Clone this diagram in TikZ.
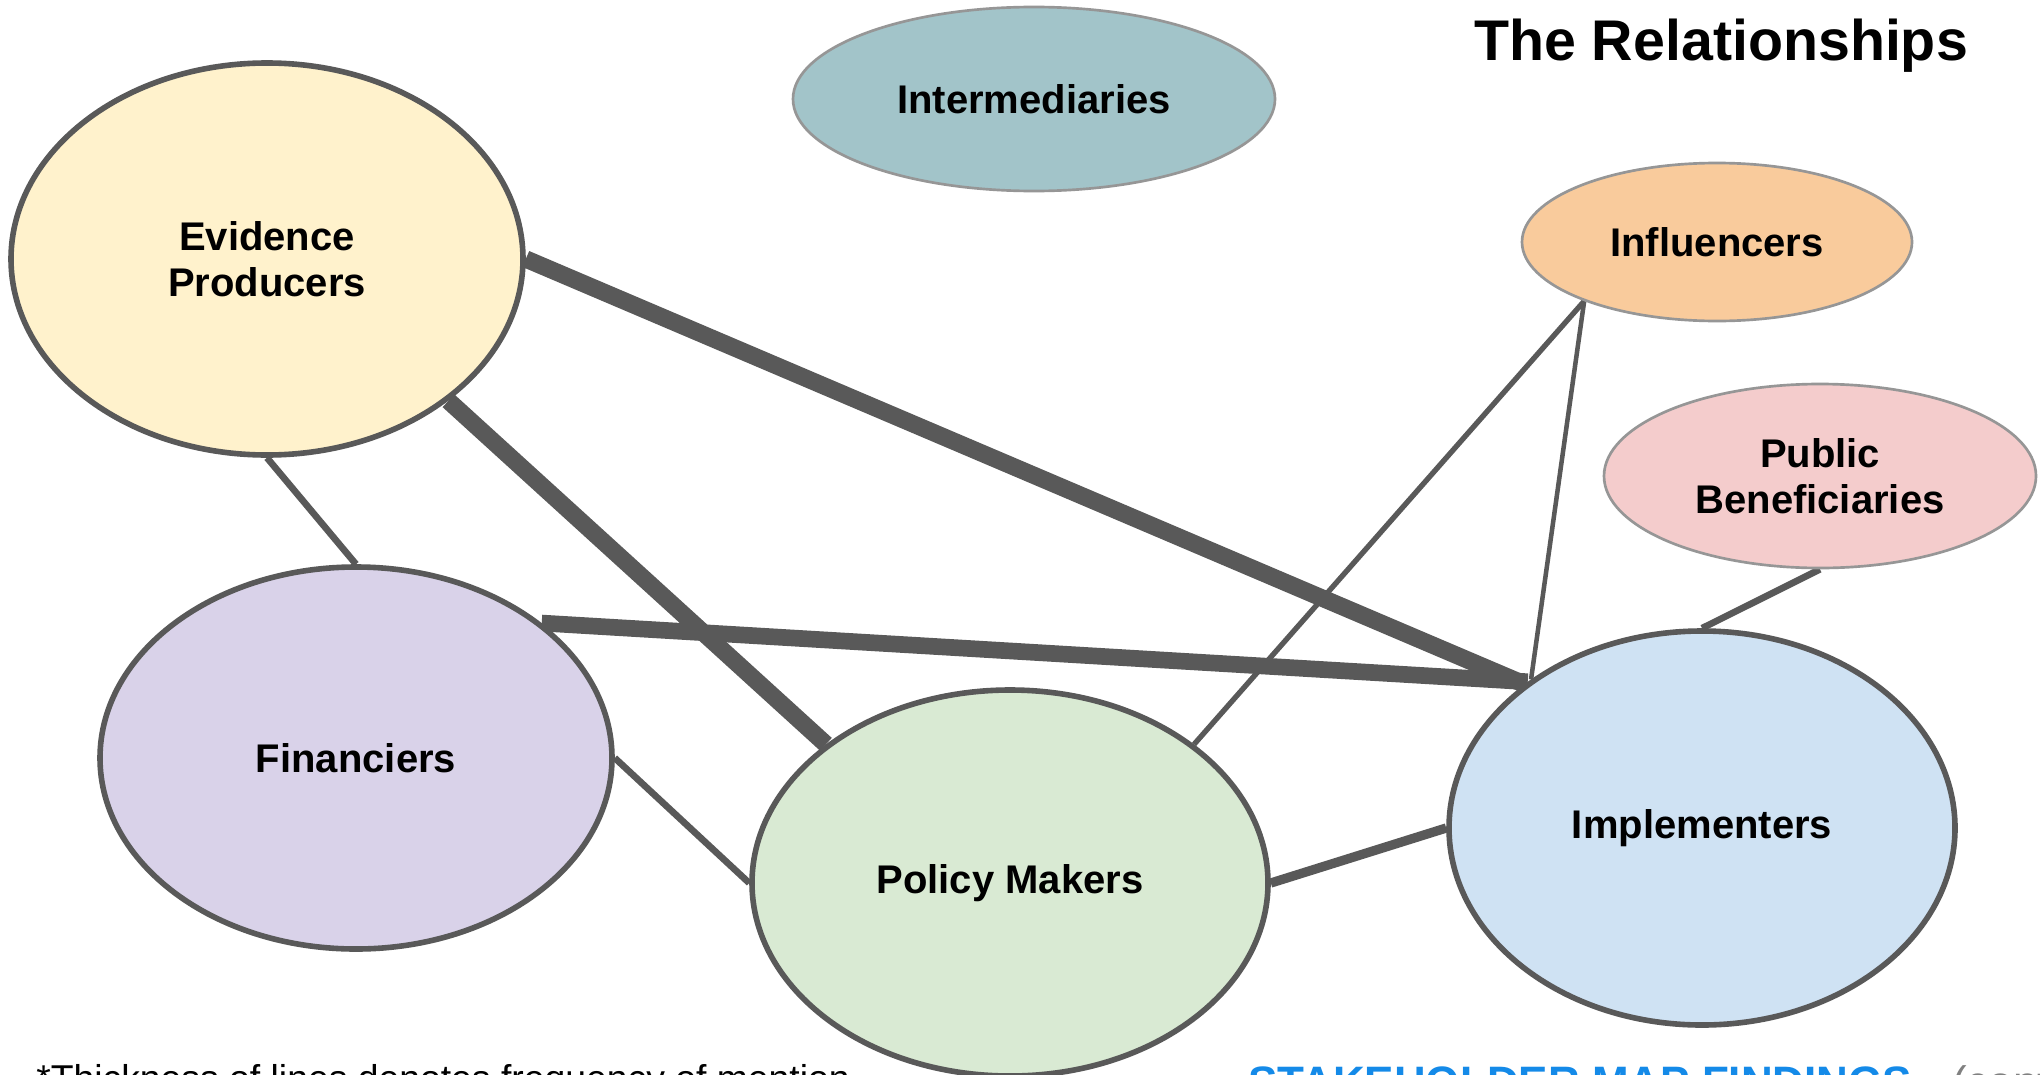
\documentclass[tikz,border=0pt]{standalone}
\usepackage{fontspec}
\setmainfont{Liberation Sans}
\usepackage{tikz}
\usepackage{xcolor}
\usetikzlibrary{shapes.geometric,backgrounds}

\definecolor{edgeGray}{RGB}{89,89,89}
\definecolor{rimGray}{RGB}{150,150,150}
\definecolor{mapBlue}{RGB}{20,138,232}

\tikzset{
  actor/.style={ellipse, draw=edgeGray, line width=4.2pt, inner sep=0pt, align=center,
    font=\fontsize{30}{34.5}\selectfont\bfseries},
  minorActor/.style={actor, draw=rimGray, line width=2pt},
  relation/.style={draw=edgeGray, line width=5pt},
  strongRelation/.style={draw=edgeGray, line width=13pt},
  weakRelation/.style={draw=edgeGray, line width=3.4pt}
}

\begin{document}
\begin{tikzpicture}[x=0.75pt,y=0.75pt,yscale=-1]
\useasboundingbox (0,0) rectangle (2040,1074);

%Shape: Ellipse [Intermediaries]
\node[minorActor, fill={rgb,255:red,162;green,196;blue,201}, minimum width=361.5pt, minimum height=138pt] (intm) at (1034,99) {Intermediaries};
%Shape: Ellipse [Evidence Producers]
\node[actor, fill={rgb,255:red,255;green,242;blue,204}, minimum width=384pt, minimum height=294pt] (evid) at (267,259) {Evidence\\Producers};
%Shape: Ellipse [Influencers]
\node[minorActor, fill={rgb,255:red,249;green,203;blue,156}, minimum width=292.5pt, minimum height=118.5pt] (infl) at (1717,242) {Influencers};
%Shape: Ellipse [Public Beneficiaries]
\node[minorActor, fill={rgb,255:red,244;green,204;blue,204}, minimum width=324pt, minimum height=138pt] (publ) at (1820,476) {Public\\Beneficiaries};
%Shape: Ellipse [Financiers]
\node[actor, fill={rgb,255:red,217;green,210;blue,233}, minimum width=384pt, minimum height=286.5pt] (fin) at (356,758) {Financiers};
%Shape: Ellipse [Policy Makers]
\node[actor, fill={rgb,255:red,217;green,234;blue,211}, minimum width=387pt, minimum height=289.5pt] (pol) at (1010,883) {Policy Makers};
%Shape: Ellipse [Implementers]
\node[actor, fill={rgb,255:red,207;green,226;blue,243}, minimum width=379.5pt, minimum height=295.5pt] (impl) at (1702,828) {Implementers};

\begin{pgfonlayer}{background}
\fill[white] (0,0) rectangle (2040,1074);
%Straight Lines [thick]
\draw[strongRelation] (evid.east) -- (impl.141);
\draw[strongRelation] (evid.-38) -- (pol.143);
\draw[strongRelation, line width=12.5pt] (fin.36) -- (impl.140);
%Straight Lines
\draw[relation] (evid.south) -- (fin.north);
\draw[relation] (fin.east) -- (pol.west);
\draw[relation, line width=7pt] (pol.east) -- (impl.west);
\draw[relation] (impl.north) -- (publ.south);
%Straight Lines [thin]
\draw[weakRelation, line width=4pt] (pol.37) -- (infl.-156);
\draw[weakRelation] (impl.139) -- (infl.-156);
\end{pgfonlayer}

% Text Node
\node[font=\fontsize{43}{48}\selectfont\bfseries] (title) at (1721,46) {The Relationships};
% Text Node
\node[anchor=base west, inner sep=0pt, font=\fontsize{28}{32}\selectfont] (note) at (36,1091) {*Thickness of lines denotes frequency of mention};
% Text Node
\node[anchor=base west, inner sep=0pt, text=mapBlue, font=\fontsize{33}{38}\selectfont\bfseries] (findings) at (1248,1097) {STAKEHOLDER MAP FINDINGS \textcolor{gray}{\mdseries • (cont.)}};

\end{tikzpicture}
\end{document}
